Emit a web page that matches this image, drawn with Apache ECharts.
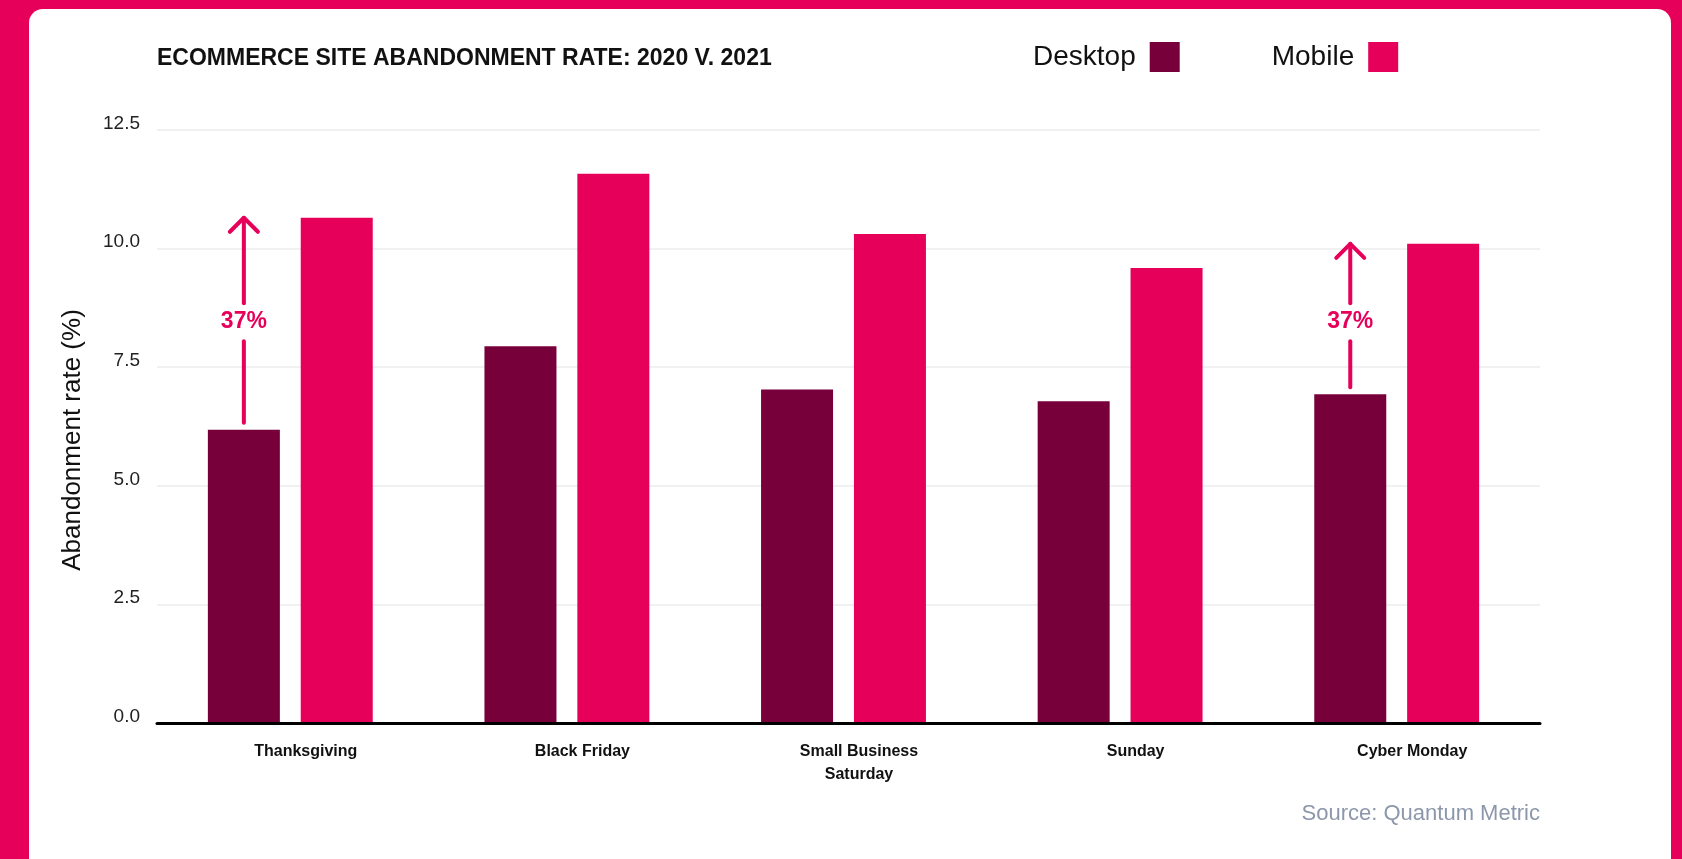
<!DOCTYPE html>
<html>
<head>
<meta charset="utf-8">
<script src="https://cdn.jsdelivr.net/npm/echarts@6/dist/echarts.min.js"></script>
<style>
  html, body { margin: 0; padding: 0; background: #E6005A; overflow: hidden; }
  #card { position: absolute; left: 29px; top: 9px; width: 1642px; height: 900px; background: #ffffff; border-radius: 14px; }
  #chart { position: absolute; left: 0; top: 0; width: 1682px; height: 859px; }
</style>
</head>
<body>
<div id="card"></div>
<div id="chart"></div>
<script>
// Abandonment rate (%) per shopping day
const categories = ['Thanksgiving', 'Black Friday', 'Small Business\nSaturday', 'Sunday', 'Cyber Monday'];
const desktopRates = [6.18, 7.94, 7.03, 6.78, 6.93];
const mobileRates = [10.65, 11.58, 10.31, 9.59, 10.10];

// Value axis ticks
const yMin = 0;
const yMax = 12.5;
const yStep = 2.5;

// Arrow call-outs from the desktop bar up to the mobile level
const arrowCategoryIndex = [0, 4];
const arrowLabels = ['37%', '37%'];
const arrowLabelLevel = 8.45;

const DESKTOP = '#77003B';
const MOBILE = '#E6005A';
const FONT = '"Liberation Sans", Arial, Helvetica, sans-serif';

const chart = echarts.init(document.getElementById('chart'), null, { renderer: 'canvas' });

chart.setOption({
  animation: false,
  textStyle: { fontFamily: FONT },
  title: {
    text: 'ECOMMERCE SITE ABANDONMENT RATE: 2020 V. 2021',
    left: 157,
    top: 47,
    padding: 0,
    textStyle: { fontFamily: FONT, fontSize: 23, fontWeight: 'bold', color: '#111111' }
  },
  legend: {
    left: 1033,
    top: 42,
    padding: 0,
    align: 'right',
    itemWidth: 30,
    itemHeight: 30,
    itemGap: 92,
    icon: 'rect',
    textStyle: { fontFamily: FONT, fontSize: 28, color: '#111111', padding: [0, 9, 0, 0] },
    data: ['Desktop', 'Mobile']
  },
  grid: [
    { left: 157, right: 142, top: 130, bottom: 136 },
    { left: 152, right: 147, top: 130, bottom: 136 }
  ],
  xAxis: [
    {
      type: 'category',
      gridIndex: 0,
      data: categories,
      z: 5,
      axisLine: { show: true, lineStyle: { color: '#000000', width: 3 } },
      axisTick: { show: false },
      splitLine: { show: false },
      axisLabel: {
        fontFamily: FONT,
        fontSize: 16,
        fontWeight: 'bold',
        color: '#111111',
        margin: 17,
        lineHeight: 23,
        padding: [0, 0, 0, 21],
        interval: 0
      }
    },
    { type: 'category', gridIndex: 1, data: categories, show: false }
  ],
  yAxis: [
    {
      type: 'value',
      gridIndex: 0,
      min: yMin,
      max: yMax,
      interval: yStep,
      axisLine: { show: false },
      axisTick: { show: false },
      splitLine: { show: true, lineStyle: { color: '#f1f1f1', width: 2 } },
      axisLabel: {
        fontFamily: FONT,
        fontSize: 19,
        color: '#222222',
        margin: 17,
        verticalAlign: 'bottom',
        lineHeight: 13,
        formatter: v => v.toFixed(1)
      },
      name: 'Abandonment rate (%)',
      nameLocation: 'middle',
      nameGap: 71,
      nameTextStyle: { fontFamily: FONT, fontSize: 26, color: '#111111', padding: [0, 27, 0, 0] }
    },
    { type: 'value', gridIndex: 1, min: yMin, max: yMax, interval: yStep, show: false }
  ],
  series: [
    {
      name: 'Desktop',
      type: 'bar',
      xAxisIndex: 1,
      yAxisIndex: 1,
      data: desktopRates,
      barWidth: 72,
      barGap: '29%',
      itemStyle: { color: DESKTOP }
    },
    {
      name: 'Mobile',
      type: 'bar',
      xAxisIndex: 1,
      yAxisIndex: 1,
      data: mobileRates,
      barWidth: 72,
      barGap: '29%',
      itemStyle: { color: MOBILE }
    }
  ]
});

// Build the arrow call-outs from the laid-out bars
function barTop(seriesIndex, idx) {
  const layout = chart.getModel().getSeriesByIndex(seriesIndex).getData().getItemLayout(idx);
  return {
    cx: layout.x + layout.width / 2,
    top: Math.min(layout.y, layout.y + layout.height)
  };
}

const graphics = [];
const arrowStyle = { stroke: MOBILE, lineWidth: 4, lineCap: 'round', lineJoin: 'round', fill: null };
const labelY = chart.convertToPixel({ yAxisIndex: 1 }, arrowLabelLevel);

arrowCategoryIndex.forEach((idx, k) => {
  const d = barTop(0, idx);
  const m = barTop(1, idx);
  const cx = d.cx;
  graphics.push({
    type: 'line', silent: true, z: 10,
    shape: { x1: cx, y1: d.top - 7, x2: cx, y2: labelY + 19 },
    style: arrowStyle
  });
  graphics.push({
    type: 'line', silent: true, z: 10,
    shape: { x1: cx, y1: labelY - 19, x2: cx, y2: m.top },
    style: arrowStyle
  });
  graphics.push({
    type: 'polyline', silent: true, z: 10,
    shape: { points: [[cx - 14, m.top + 14], [cx, m.top], [cx + 14, m.top + 14]] },
    style: arrowStyle
  });
  graphics.push({
    type: 'text', silent: true, z: 10,
    x: cx, y: labelY,
    style: {
      text: arrowLabels[k],
      fill: MOBILE,
      font: 'bold 23px ' + FONT,
      align: 'center',
      verticalAlign: 'middle'
    }
  });
});

graphics.push({
  type: 'text', silent: true,
  right: 142, top: 803,
  style: {
    text: 'Source: Quantum Metric',
    fill: '#8c97ab',
    font: '22px ' + FONT
  }
});

chart.setOption({ graphic: graphics });
</script>
</body>
</html>
